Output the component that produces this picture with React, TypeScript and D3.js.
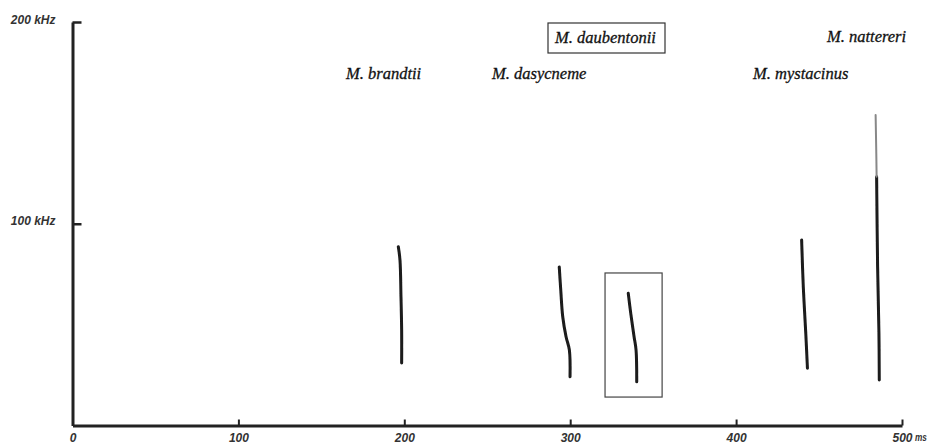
import React, { useRef, useEffect } from 'react'
import * as d3 from 'd3'

// time ticks (ms) and frequency ticks (kHz)
const timeTicks = [0, 100, 200, 300, 400, 500]
const freqTicks = [100, 200]

// calls: [ms, kHz]
const brandtii: [number, number][] = [[196.4, 88.6], [197.4, 82], [198.0, 63.8], [198.4, 47.3], [198.4, 31.0]]
const dasycneme: [number, number][] = [[293.4, 78.6], [294.3, 67.2], [295.5, 53.9], [297.5, 44.0], [299.5, 37.4], [299.9, 24.2]]
const daubentonii: [number, number][] = [[335.0, 65.5], [336.5, 55.6], [338.5, 44.0], [339.7, 37.4], [340.1, 21.7]]
const mystacinus: [number, number][] = [[439.5, 91.9], [440.5, 68.8], [442.0, 45.7], [443.0, 28.4]]
const nattereriFaint: [number, number][] = [[484.1, 153.9], [484.5, 135], [484.7, 123.3]]
const nattereri: [number, number][] = [[484.7, 123.3], [485.3, 78.7], [486.1, 45.7], [486.3, 22.6]]

// highlight box around the daubentonii call: [ms, kHz] corners
const highlight = { t0: 321.0, t1: 355.4, f0: 14.1, f1: 75.6 }

const species = ['M. brandtii', 'M. dasycneme', 'M. daubentonii', 'M. mystacinus', 'M. nattereri']

const W = 929
const H = 446

const labelLayout: Record<string, { x: number; y: number; boxed?: boolean }> = {
  'M. brandtii': { x: 346, y: 79 },
  'M. dasycneme': { x: 492, y: 79 },
  'M. daubentonii': { x: 555, y: 43, boxed: true },
  'M. mystacinus': { x: 753, y: 79 },
  'M. nattereri': { x: 827, y: 42 }
}

const sansFont = "'Liberation Sans', Arial, sans-serif"
const serifFont = "'Liberation Serif', 'Times New Roman', serif"

export default function App() {
  const xAxisRef = useRef<SVGGElement>(null)
  const yAxisRef = useRef<SVGGElement>(null)

  const x = d3.scaleLinear().domain([0, 500]).range([72.5, 902])
  const y = d3.scaleLinear().domain([0, 200]).range([425.5, 22])

  const line = d3.line<[number, number]>()
    .x(d => x(d[0]))
    .y(d => y(d[1]))
    .curve(d3.curveCatmullRom)

  useEffect(() => {
    document.body.style.margin = '0'

    const xAxis = d3.axisBottom(x)
      .tickValues(timeTicks)
      .tickSize(-6)
      .tickSizeOuter(0)
      .tickPadding(8)
      .tickFormat(d => String(d))

    const gx = d3.select(xAxisRef.current!)
    gx.selectAll('*').remove()
    gx.call(xAxis)
    gx.attr('font-size', 12).attr('font-family', sansFont)
    gx.select('.domain').attr('stroke', '#222').attr('stroke-width', 3)
    gx.selectAll('.tick line').attr('stroke', '#222').attr('stroke-width', 2)
    gx.selectAll('.tick text')
      .attr('fill', '#333')
      .attr('font-style', 'italic')
      .attr('font-weight', 'bold')
    // unit after the last tick, squeezed so it fits the edge like the original
    gx.select('.tick:last-of-type')
      .append('text')
      .attr('transform', 'translate(12.5,8) scale(0.75,1)')
      .attr('dy', '0.71em')
      .attr('fill', '#333')
      .attr('font-size', 11)
      .attr('font-style', 'italic')
      .attr('font-weight', 'bold')
      .attr('text-anchor', 'start')
      .text('ms')

    const yAxis = d3.axisLeft(y)
      .tickValues(freqTicks)
      .tickSize(-9)
      .tickSizeOuter(0)
      .tickPadding(17)
      .tickFormat(d => `${d} kHz`)

    const gy = d3.select(yAxisRef.current!)
    gy.selectAll('*').remove()
    gy.call(yAxis)
    gy.attr('font-size', 12).attr('font-family', sansFont)
    gy.select('.domain').attr('stroke', '#222').attr('stroke-width', 3)
    gy.selectAll('.tick line').attr('stroke', '#222').attr('stroke-width', 2.5)
    gy.selectAll('.tick text')
      .attr('fill', '#333')
      .attr('dy', '0.1em')
      .attr('font-style', 'italic')
      .attr('font-weight', 'bold')
  }, [])

  const calls = [brandtii, dasycneme, daubentonii, mystacinus, nattereri]

  return (
    <svg width={W} height={H} style={{ display: 'block', background: '#fff' }}>
      <defs>
        <filter id="smudge" x="-50%" y="-10%" width="200%" height="120%">
          <feGaussianBlur stdDeviation="0.6" />
        </filter>
      </defs>

      <g ref={xAxisRef} transform={`translate(0,${y(0)})`} />
      <g ref={yAxisRef} transform={`translate(${x(0)},0)`} />

      <g filter="url(#smudge)" fill="none" strokeLinecap="round">
        {calls.map((c, i) => (
          <path key={i} d={line(c) ?? ''} stroke="#1a1a1a" strokeWidth={3} />
        ))}
        <path d={line(nattereriFaint) ?? ''} stroke="#888" strokeWidth={2} />
      </g>

      <rect
        x={x(highlight.t0)}
        y={y(highlight.f1)}
        width={x(highlight.t1) - x(highlight.t0)}
        height={y(highlight.f0) - y(highlight.f1)}
        fill="none"
        stroke="#444"
        strokeWidth={1.2}
      />

      {species.map(s => {
        const l = labelLayout[s]
        return (
          <g key={s}>
            {l.boxed && (
              <rect x={l.x - 7} y={l.y - 20} width={117} height={30} fill="none" stroke="#333" strokeWidth={1.2} />
            )}
            <text
              x={l.x}
              y={l.y}
              fill="#111"
              stroke="#111"
              strokeWidth={0.3}
              fontFamily={serifFont}
              fontSize={16.5}
              fontStyle="italic"
            >
              {s}
            </text>
          </g>
        )
      })}
    </svg>
  )
}
